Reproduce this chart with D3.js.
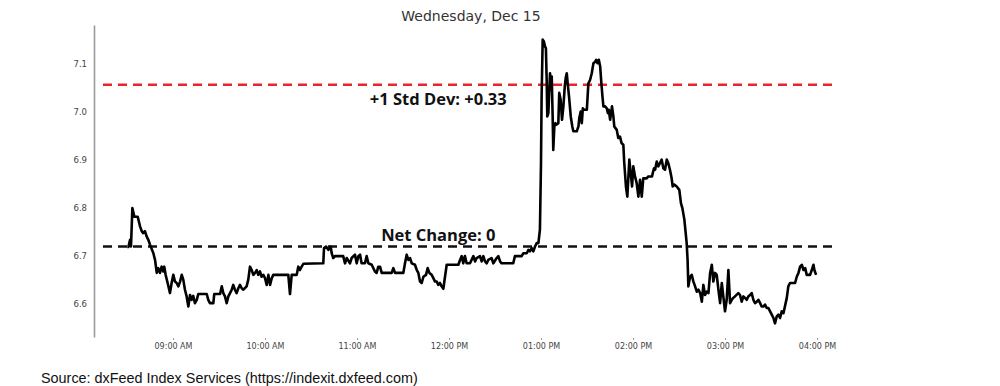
<!DOCTYPE html>
<html>
<head>
<meta charset="utf-8">
<script src="https://cdn.jsdelivr.net/npm/d3@7"></script>
<style>
  html, body { margin: 0; padding: 0; background: #fff; }
  svg { display: block; }
</style>
</head>
<body>
<svg id="chart" width="1000" height="386"></svg>
<script>
// ---------------- DATA ----------------
const title = "Wednesday, Dec 15";
const sourceText = "Source: dxFeed Index Services (https://indexit.dxfeed.com)";
const sessionDate = "2021-12-15";
const sessionOpen = "08:30";
// minutes elapsed since the 08:30 open
const minutes = [
  0.2, 0.9, 2, 2.6, 3.5, 4.8, 7, 8.5, 9.6, 10.6, 11.7, 12.8, 13.9, 15, 17.2, 18.3, 19.4, 20.4, 21.5, 22.6,
  23.7, 24.3, 25.2, 26.5, 28, 29.1, 30.2, 31.3, 32.4, 33.5, 34.6, 35.7, 36.7, 37.8, 38.9, 40, 41.1, 42.2, 43.2, 44.3,
  45.5, 46.5, 52, 53, 54.1, 56.3, 56.9, 60.7, 61.8, 62.8, 63.9, 65, 66.1, 67.2, 68.3, 69.3, 70.4, 71.5, 72.6, 73.7,
  74.8, 75.9, 78, 79.1, 80.2, 81.3, 82.4, 83.5, 84.6, 85.6, 86.7, 87.8, 88.9, 90, 91.1, 92.2, 93.3, 94.4, 95.4, 105.2,
  106.3, 107.4, 110.7, 111.7, 112.8, 113.9, 115, 128, 128.5, 129.8, 131.3, 132.8, 133.5, 134.5, 135.6, 141, 142.2, 143.3, 145.4, 146.5,
  148.7, 149.8, 150.9, 152, 153, 155.2, 156.3, 157.4, 159.6, 161.7, 162.8, 163.9, 165, 166.1, 172.6, 173.7, 174.8, 180.2, 181.3, 182.4,
  183.5, 184.6, 185.7, 187.8, 189, 190, 191.1, 192.2, 193.3, 195, 196.1, 197.2, 198.7, 199.8, 200.9, 202, 203, 204.1, 205.2, 206.3,
  207.4, 208.5, 216.1, 217.2, 218.3, 219.3, 220.4, 221.5, 223.7, 225.9, 227, 228, 230.2, 231.3, 232.4, 233.5, 234.6, 235.6, 237.8, 238.9,
  241.1, 242.2, 243.3, 244.3, 251.9, 253, 257.4, 258.5, 260.7, 261.8, 262.8, 263.9, 265, 266.1, 267.2, 268.3, 269.3, 270, 270.4, 271.1,
  271.9, 272.6, 273.2, 273.7, 274.1, 274.8, 275.4, 275.9, 276.3, 277, 277.6, 278, 278.7, 279.4, 280.2, 281.3, 281.9, 282.8, 283.7, 284.6,
  285.5, 286.1, 286.8, 287.4, 288.3, 289.4, 290.4, 291.1, 293.3, 294.4, 295, 295.9, 296.6, 297.3, 298.1, 299.9, 300.9, 302, 303.1, 304.2,
  305.3, 306, 306.8, 307.7, 308.6, 309.2, 310.1, 310.7, 311.8, 312.9, 313.6, 314.2, 315.1, 315.7, 316.3, 317.2, 317.8, 319.4, 320.4, 321.5,
  322.6, 323.7, 324.3, 325.4, 326.3, 327.6, 328.5, 329.4, 330.2, 331.3, 332.4, 333.5, 334.6, 335.7, 336.7, 338.9, 340, 342.4, 342.9, 343.7,
  344.4, 345.5, 346.5, 347.6, 348.7, 349.8, 350.9, 352, 353, 354.1, 355.2, 355.9, 356.9, 358.5, 360.2, 361.3, 362.2, 363.5, 365, 365.6,
  366.1, 367.2, 368.3, 369.4, 370.5, 371.6, 372.7, 373.8, 374.9, 375.9, 377, 378.1, 379.2, 380.3, 381.4, 382.4, 383.5, 384.6, 385.7, 386.8,
  387.9, 388.9, 390, 391.1, 392.2, 393.3, 394.4, 395.4, 396.5, 398.7, 399.8, 400.9, 402, 403.1, 404.2, 405.2, 406.3, 407.4, 408.5, 409.6,
  410.7, 411.8, 412.9, 413.9, 415, 416.1, 417.2, 418.3, 419.4, 420.5, 421.6, 422.6, 423.7, 424.8, 425.9, 427, 428.1, 430.3, 431.3, 432.4,
  435.7, 436.8, 437.9, 439, 440.1, 441.2, 442.3, 443.3, 445.5, 446.6, 447.7, 448.3, 449.4
];
const values = [
  6.719, 6.719, 6.734, 6.72, 6.80, 6.782, 6.782, 6.762, 6.752, 6.748, 6.752, 6.741, 6.734, 6.724, 6.706, 6.692, 6.665, 6.675, 6.665, 6.678,
  6.668, 6.678, 6.661, 6.644, 6.623, 6.644, 6.661, 6.647, 6.644, 6.637, 6.647, 6.661, 6.651, 6.630, 6.616, 6.595, 6.619, 6.609, 6.617, 6.602,
  6.609, 6.621, 6.621, 6.609, 6.602, 6.602, 6.621, 6.621, 6.637, 6.623, 6.616, 6.602, 6.616, 6.623, 6.630, 6.640, 6.630, 6.623, 6.633, 6.640,
  6.633, 6.630, 6.637, 6.651, 6.678, 6.671, 6.661, 6.665, 6.671, 6.661, 6.668, 6.657, 6.661, 6.654, 6.640, 6.661, 6.640, 6.654, 6.661, 6.661,
  6.621, 6.661, 6.661, 6.678, 6.671, 6.678, 6.684, 6.685, 6.717, 6.720, 6.713, 6.720, 6.706, 6.696, 6.700, 6.700, 6.685, 6.696, 6.685, 6.696,
  6.703, 6.685, 6.700, 6.703, 6.685, 6.685, 6.700, 6.685, 6.682, 6.668, 6.665, 6.678, 6.678, 6.665, 6.665, 6.675, 6.665, 6.665, 6.685, 6.703,
  6.692, 6.696, 6.685, 6.682, 6.671, 6.665, 6.647, 6.644, 6.657, 6.661, 6.675, 6.665, 6.661, 6.654, 6.647, 6.647, 6.640, 6.644, 6.637, 6.632,
  6.657, 6.682, 6.682, 6.692, 6.700, 6.685, 6.700, 6.685, 6.685, 6.700, 6.689, 6.696, 6.700, 6.689, 6.700, 6.689, 6.685, 6.692, 6.696, 6.685,
  6.696, 6.700, 6.689, 6.685, 6.685, 6.700, 6.700, 6.706, 6.706, 6.713, 6.710, 6.717, 6.710, 6.720, 6.727, 6.727, 6.755, 6.894, 7.032, 7.151,
  7.147, 7.137, 7.133, 7.067, 6.991, 6.998, 7.046, 7.081, 7.046, 7.074, 6.991, 6.921, 6.970, 6.977, 6.974, 6.977, 7.040, 7.026, 6.984, 7.012,
  7.053, 7.071, 7.081, 7.060, 7.032, 6.991, 6.970, 6.960, 6.960, 6.970, 6.988, 7.001, 6.977, 7.008, 7.005, 7.005, 7.060, 7.067, 7.081, 7.102,
  7.105, 7.109, 7.102, 7.109, 7.095, 7.067, 7.032, 7.012, 7.012, 7.008, 6.998, 7.005, 6.984, 6.998, 7.012, 6.991, 6.970, 6.963, 6.946, 6.949,
  6.935, 6.932, 6.894, 6.845, 6.824, 6.901, 6.873, 6.845, 6.887, 6.866, 6.852, 6.824, 6.859, 6.824, 6.862, 6.862, 6.866, 6.866, 6.873, 6.883,
  6.880, 6.897, 6.887, 6.894, 6.901, 6.883, 6.880, 6.901, 6.894, 6.880, 6.862, 6.845, 6.849, 6.845, 6.838, 6.810, 6.800, 6.776, 6.727, 6.692,
  6.637, 6.657, 6.661, 6.647, 6.637, 6.626, 6.630, 6.623, 6.605, 6.640, 6.619, 6.626, 6.623, 6.665, 6.682, 6.647, 6.665, 6.661, 6.630, 6.602,
  6.644, 6.616, 6.585, 6.609, 6.671, 6.602, 6.609, 6.613, 6.616, 6.623, 6.619, 6.605, 6.616, 6.613, 6.609, 6.616, 6.619, 6.623, 6.609, 6.602,
  6.605, 6.609, 6.602, 6.595, 6.595, 6.599, 6.592, 6.592, 6.585, 6.578, 6.571, 6.560, 6.574, 6.578, 6.571, 6.585, 6.581, 6.613, 6.637, 6.644,
  6.644, 6.657, 6.665, 6.678, 6.682, 6.671, 6.675, 6.661, 6.661, 6.671, 6.682, 6.671, 6.661
];
const yTicks = [6.6, 6.7, 6.8, 6.9, 7.0, 7.1];
const xTickTimes = ["09:00", "10:00", "11:00", "12:00", "13:00", "14:00", "15:00", "16:00"];
const netChangeLevel = 6.72;
const netChangeLabel = "Net Change: 0";
const stdDevLevel = 7.057;
const stdDevLabel = "+1 Std Dev: +0.33";
const labelTime = "11:53";

// ---------------- CHART ----------------
const svg = d3.select("#chart");
const parse = d3.timeParse("%Y-%m-%d %H:%M");
const t0 = parse(sessionDate + " " + sessionOpen);
const tEnd = parse(sessionDate + " 16:00");
const data = minutes.map((m, i) => ({ t: new Date(t0.getTime() + m * 60000), v: values[i] }));

const x = d3.scaleTime().domain([t0, tEnd]).range([127, 817]);
const y = d3.scaleLinear().domain([6.5315, 7.1815]).range([337, 25]);

const axisX = 94;
const lineLeft = 103, lineRight = 838;

// title
svg.append("text")
  .attr("x", 471).attr("y", 21)
  .attr("text-anchor", "middle")
  .attr("font-family", "DejaVu Sans")
  .attr("font-size", 14)
  .attr("fill", "#333")
  .text(title);

// y axis
const yAxis = d3.axisLeft(y).tickValues(yTicks).tickSize(0).tickPadding(7)
  .tickFormat(d3.format(".1f"));
const gy = svg.append("g").attr("transform", `translate(${axisX},0)`).call(yAxis);
gy.select(".domain").attr("stroke", "#999").attr("stroke-width", 1.6);
gy.selectAll("text").attr("font-family", "DejaVu Sans").attr("font-size", 8.5).attr("fill", "#444");

// x axis
const xAxis = d3.axisBottom(x)
  .tickValues(xTickTimes.map(s => parse(sessionDate + " " + s)))
  .tickSize(2).tickPadding(3)
  .tickFormat(d3.timeFormat("%I:%M %p"));
const gx = svg.append("g").attr("transform", `translate(0,338)`).call(xAxis);
gx.select(".domain").remove();
gx.selectAll(".tick line").attr("stroke", "#999");
gx.selectAll("text").attr("font-family", "DejaVu Sans").attr("font-size", 8).attr("fill", "#444");

// reference lines
svg.append("line")
  .attr("x1", lineLeft).attr("x2", lineRight)
  .attr("y1", y(stdDevLevel)).attr("y2", y(stdDevLevel))
  .attr("stroke", "#e8262a").attr("stroke-width", 2.5).attr("stroke-dasharray", "9,6");
svg.append("line")
  .attr("x1", lineLeft).attr("x2", lineRight)
  .attr("y1", y(netChangeLevel)).attr("y2", y(netChangeLevel))
  .attr("stroke", "#111").attr("stroke-width", 2.5).attr("stroke-dasharray", "9,6");

// series line
svg.append("path")
  .datum(data)
  .attr("fill", "none")
  .attr("stroke", "#000")
  .attr("stroke-width", 2.6)
  .attr("stroke-linejoin", "round")
  .attr("d", d3.line().x(d => x(d.t)).y(d => y(d.v)));

// annotations
const lx = x(parse(sessionDate + " " + labelTime));
svg.append("text")
  .attr("x", lx).attr("y", y(stdDevLevel) + 20)
  .attr("text-anchor", "middle")
  .attr("font-family", "Open Sans").attr("font-weight", "bold").attr("font-size", 16.5)
  .attr("fill", "#111")
  .text(stdDevLabel);
svg.append("text")
  .attr("x", lx).attr("y", y(netChangeLevel) - 6)
  .attr("text-anchor", "middle")
  .attr("font-family", "Open Sans").attr("font-weight", "bold").attr("font-size", 16.5)
  .attr("fill", "#111")
  .text(netChangeLabel);

// source
svg.append("text")
  .attr("x", 41).attr("y", 383)
  .attr("font-family", "Liberation Sans, Arial")
  .attr("font-size", 14.4)
  .attr("fill", "#111")
  .text(sourceText);
</script>
</body>
</html>
